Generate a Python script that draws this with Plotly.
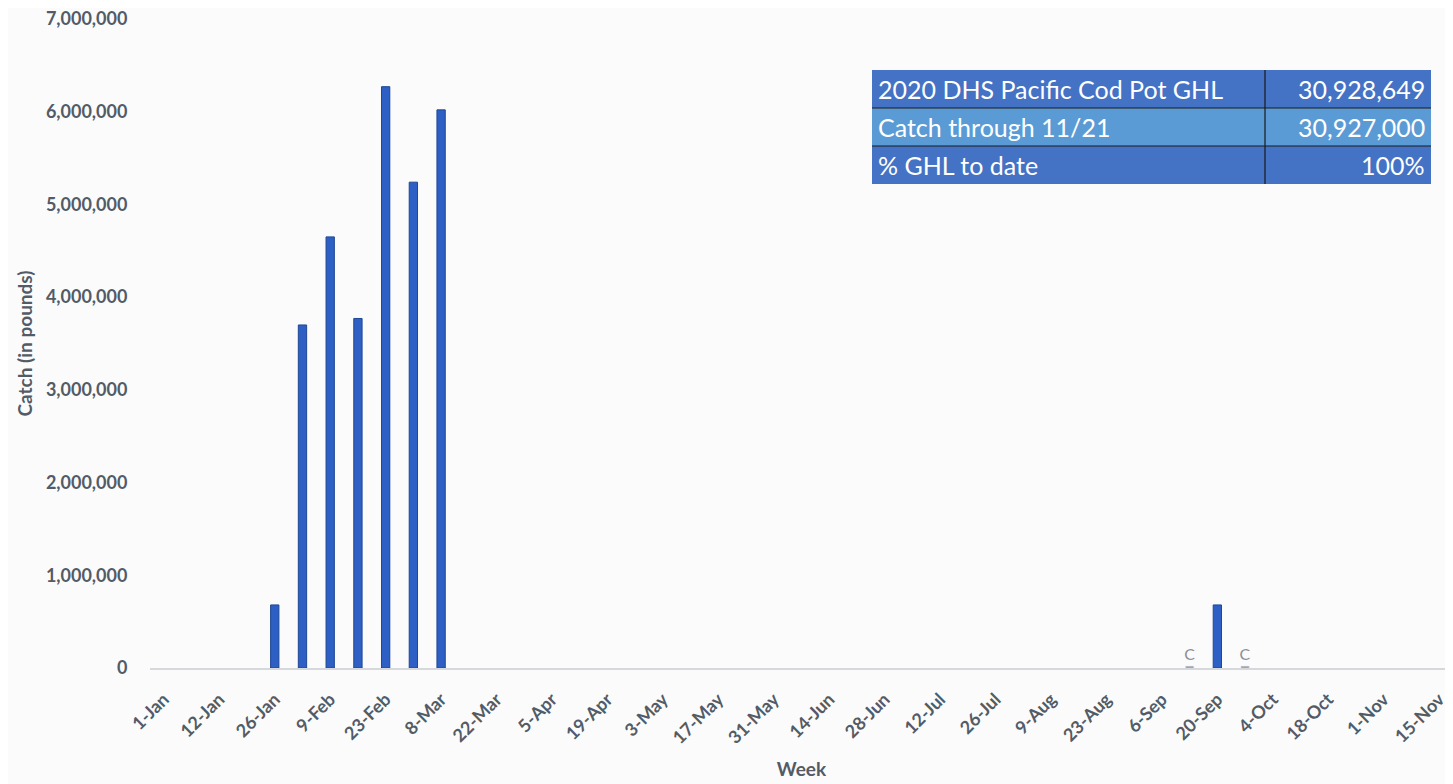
import plotly.graph_objects as go

weeks = ["1-Jan","5-Jan","12-Jan","19-Jan","26-Jan","2-Feb","9-Feb","16-Feb","23-Feb","1-Mar",
         "8-Mar","15-Mar","22-Mar","29-Mar","5-Apr","12-Apr","19-Apr","26-Apr","3-May","10-May",
         "17-May","24-May","31-May","7-Jun","14-Jun","21-Jun","28-Jun","5-Jul","12-Jul","19-Jul",
         "26-Jul","2-Aug","9-Aug","16-Aug","23-Aug","30-Aug","6-Sep","13-Sep","20-Sep","27-Sep",
         "4-Oct","11-Oct","18-Oct","25-Oct","1-Nov","8-Nov","15-Nov"]
tick_labels = weeks[::2]
y_ticks = [0, 1000000, 2000000, 3000000, 4000000, 5000000, 6000000, 7000000]

catch_weeks = ["26-Jan","2-Feb","9-Feb","16-Feb","23-Feb","1-Mar","8-Mar","20-Sep"]
catch_values = [680000, 3700000, 4650000, 3770000, 6270000, 5240000, 6020000, 680000]

conf_weeks = ["13-Sep","27-Sep"]
conf_values = [20000, 20000]
conf_text = ["C","C"]

table_labels = ["2020 DHS Pacific Cod Pot GHL", "Catch through 11/21", "% GHL to date"]
table_values = ["30,928,649", "30,927,000", "100%"]
row_colors = ["#4472C4", "#5B9BD5", "#4472C4"]

FONT = "Lato"
GRAY = "#525b66"

fig = go.Figure()
fig.add_trace(go.Bar(x=catch_weeks, y=catch_values, width=0.3,
                     marker=dict(color="#2D5FC4", line=dict(color="#1E4796", width=1)),
                     showlegend=False))
fig.add_trace(go.Bar(x=conf_weeks, y=conf_values, width=0.3, text=conf_text,
                     textposition="outside", cliponaxis=False, constraintext="none",
                     textfont=dict(family=FONT, size=16, color="#8a9099"),
                     marker=dict(color="#8a8f96"), showlegend=False))

# page offset of 8px (browser body margin)
OFF = 8
W, H = 1453 - OFF, 784 - OFF
# plot area in screen pixels: x 150..1453, y 19..668
L, R, T, B = 150 - OFF, 0, 19 - OFF, 784 - 668
pw, ph = 1453 - 150, 668 - 19
def px(x): return (x - 150) / pw
def py(y): return (668 - y) / ph

x0, xm, x1 = 872, 1265, 1431
rows_y = [70, 108, 146, 184]
shapes = []
annotations = []
for i, (lab, val, col) in enumerate(zip(table_labels, table_values, row_colors)):
    ya, yb = rows_y[i], rows_y[i + 1]
    shapes.append(dict(type="rect", xref="paper", yref="paper", x0=px(x0), x1=px(x1),
                       y0=py(yb), y1=py(ya), fillcolor=col, line=dict(width=0), layer="above"))
    annotations.append(dict(xref="paper", yref="paper", x=px(x0 + 4), y=py((ya + yb) / 2),
                            text=lab, showarrow=False, xanchor="left", yanchor="middle",
                            font=dict(family=FONT, size=25, color="white")))
    annotations.append(dict(xref="paper", yref="paper", x=px(x1 - 4), y=py((ya + yb) / 2),
                            text=val, showarrow=False, xanchor="right", yanchor="middle",
                            font=dict(family=FONT, size=25, color="white")))
for yy in rows_y[1:3]:
    shapes.append(dict(type="line", xref="paper", yref="paper", x0=px(x0), x1=px(x1),
                       y0=py(yy), y1=py(yy), line=dict(color="#1a1a1a", width=1), layer="above"))
shapes.append(dict(type="line", xref="paper", yref="paper", x0=px(xm), x1=px(xm),
                   y0=py(rows_y[3]), y1=py(rows_y[0]), line=dict(color="#1a1a1a", width=1.2), layer="above"))

fig.update_layout(
    width=W, height=H,
    margin=dict(l=L, r=R, t=T, b=B),
    paper_bgcolor="#fbfbfc", plot_bgcolor="#fbfbfc",
    shapes=shapes, annotations=annotations,
    xaxis=dict(type="category", categoryorder="array", categoryarray=weeks,
               range=[-0.5, len(weeks) - 0.5],
               tickmode="array", tickvals=tick_labels, ticktext=tick_labels,
               tickangle=-45, ticks="outside", ticklen=12, tickcolor="rgba(0,0,0,0)",
               tickfont=dict(family=FONT, size=18, color=GRAY, weight="bold"),
               showline=True, linecolor="#d6d8db", linewidth=1.5, showgrid=False,
               title=dict(text="Week", font=dict(family=FONT, size=19, color=GRAY, weight="bold"),
                          standoff=16)),
    yaxis=dict(range=[0, 7000000], tickmode="array", tickvals=y_ticks, tickformat=",d",
               ticklabeloverflow="allow",
               ticks="outside", ticklen=18, tickcolor="rgba(0,0,0,0)",
               tickfont=dict(family=FONT, size=18, color=GRAY, weight="bold"),
               showgrid=False, zeroline=False, showline=False,
               title=dict(text="Catch (in pounds)", font=dict(family=FONT, size=19, color=GRAY, weight="bold"),
                          standoff=8)),
)

fig.write_html("out.html")
